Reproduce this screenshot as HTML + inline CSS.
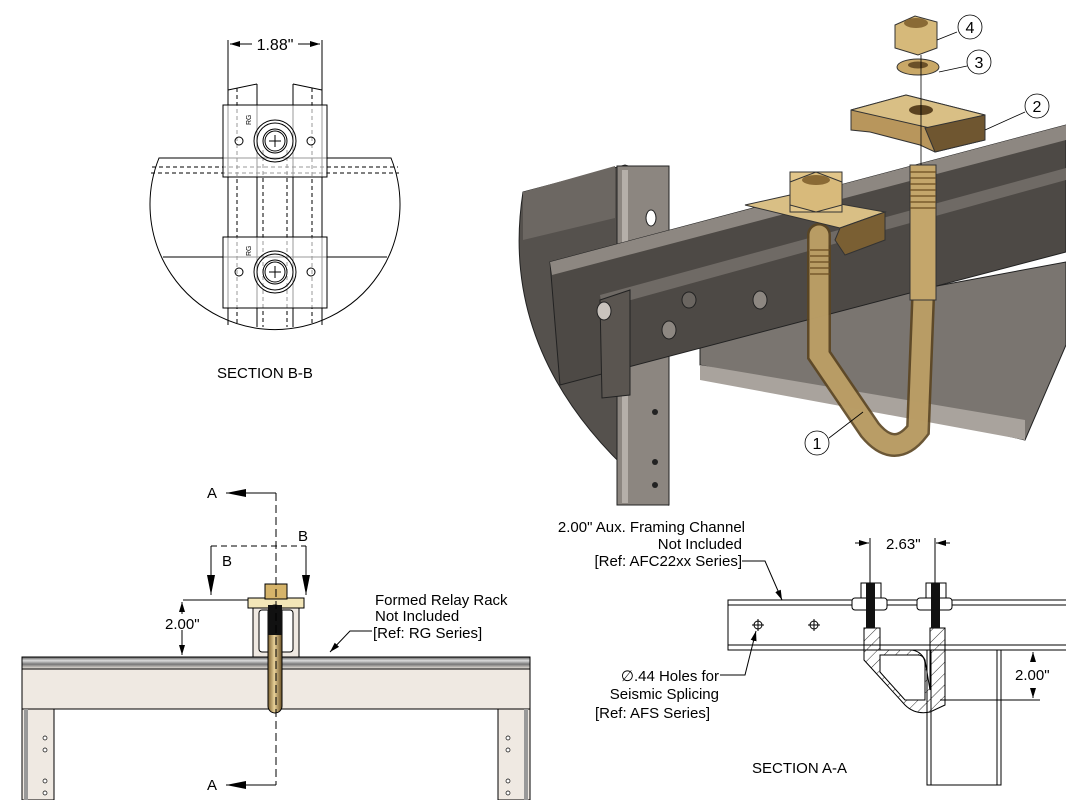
<!DOCTYPE html>
<html><head><meta charset="utf-8"><style>
html,body{margin:0;padding:0;background:#fff;}
svg{display:block;}
text{font-family:"Liberation Sans",sans-serif;font-size:15px;fill:#000;}
</style></head><body>
<svg width="1066" height="800" viewBox="0 0 1066 800" xmlns="http://www.w3.org/2000/svg">
<defs>
<marker id="ar" viewBox="0 0 10 6" refX="10" refY="3" markerWidth="10" markerHeight="6" orient="auto-start-reverse" markerUnits="userSpaceOnUse"><path d="M0,0 L10,3 L0,6 Z" fill="#000"/></marker>
<marker id="big" viewBox="0 0 20 8" refX="20" refY="4" markerWidth="20" markerHeight="8" orient="auto" markerUnits="userSpaceOnUse"><path d="M0,0 L20,4 L0,8 Z" fill="#000"/></marker>
<linearGradient id="bolt" x1="0" x2="1"><stop offset="0" stop-color="#7a6030"/><stop offset=".45" stop-color="#e8d098"/><stop offset="1" stop-color="#6d5428"/></linearGradient>
<linearGradient id="beam" x1="0" y1="0" x2="0" y2="1"><stop offset="0" stop-color="#555"/><stop offset=".3" stop-color="#ddd"/><stop offset=".6" stop-color="#777"/><stop offset="1" stop-color="#efe9e2"/></linearGradient>
<pattern id="hat" width="8" height="8" patternUnits="userSpaceOnUse" patternTransform="rotate(45)"><line x1="0" y1="0" x2="0" y2="8" stroke="#000" stroke-width="0.8"/></pattern>
</defs>

<!-- SECTION B-B -->
<g stroke="#000" stroke-width="1" fill="none">
<path d="M159,158 L391,158 A125,125 0 1 1 159,158 Z" fill="#fff"/>
<line x1="228" y1="40" x2="228" y2="325"/><line x1="322" y1="40" x2="322" y2="325"/>
<line x1="257" y1="84" x2="257" y2="327"/><line x1="293" y1="84" x2="293" y2="327"/>
<line x1="228" y1="90" x2="257" y2="84"/><line x1="293" y1="84" x2="322" y2="90"/>
<g stroke-dasharray="4,3"><line x1="237" y1="88" x2="237" y2="325"/><line x1="312" y1="88" x2="312" y2="325"/><line x1="263" y1="150" x2="263" y2="327"/><line x1="287" y1="150" x2="287" y2="327"/>
<line x1="152" y1="167" x2="398" y2="167"/><line x1="151" y1="173" x2="399" y2="173"/></g>
<line x1="163" y1="257" x2="387" y2="257"/>
<rect x="223" y="105" width="104" height="72" fill="#fff" fill-opacity="0.6"/>
<rect x="223" y="237" width="104" height="71" fill="#fff" fill-opacity="0.6"/>
<circle cx="275" cy="141" r="21"/><circle cx="275" cy="141" r="18"/><circle cx="275" cy="141" r="12"/><circle cx="275" cy="141" r="10"/>
<circle cx="275" cy="272" r="21"/><circle cx="275" cy="272" r="18"/><circle cx="275" cy="272" r="12"/><circle cx="275" cy="272" r="10"/>
<path d="M269,141h12M275,135v12M269,272h12M275,266v12"/>
<circle cx="239" cy="141" r="4"/><circle cx="311" cy="141" r="4"/><circle cx="239" cy="272" r="4"/><circle cx="311" cy="272" r="4"/>
<line x1="230" y1="44" x2="252" y2="44" marker-start="url(#ar)"/><line x1="298" y1="44" x2="320" y2="44" marker-end="url(#ar)"/>
</g>
<text x="275" y="50" text-anchor="middle" style="font-size:16px">1.88"</text>
<text x="248" y="128" style="font-size:7px" transform="rotate(-90 248 125)">RG</text><text x="248" y="259" style="font-size:7px" transform="rotate(-90 248 256)">RG</text>
<text x="217" y="378">SECTION B-B</text>

<!-- 3D VIEW -->
<path d="M523,192 Q495,370 668,505 L668,178 L625,165 Z" fill="#55514d" stroke="#222"/>
<polygon points="523,192 615,166 615,218 523,240" fill="#6c6762"/>
<rect x="617" y="166" width="52" height="339" fill="#8c8680" stroke="#222"/>
<rect x="622" y="170" width="6" height="333" fill="#b5afa9"/>
<ellipse cx="651" cy="218" rx="5" ry="8" fill="#fff" stroke="#222"/>
<polygon points="700,330 1066,262 1066,345 1025,440 700,365" fill="#7a7570" stroke="#222"/>
<polygon points="700,365 1025,420 1025,440 700,380" fill="#a9a39d"/>
<polygon points="550,262 1066,125 1066,252 560,385" fill="#4d4945" stroke="#222"/>
<polygon points="550,262 1066,125 1066,140 552,275" fill="#8d8781"/>
<polygon points="600,295 1066,168 1066,180 602,308" fill="#6f6a65"/>
<polygon points="600,300 630,290 630,395 602,398" fill="#5a5550" stroke="#222"/>
<ellipse cx="604" cy="311" rx="7" ry="9" fill="#c9c3bd" stroke="#222"/>
<ellipse cx="689" cy="300" rx="7" ry="8" fill="#6a6560" stroke="#222"/>
<ellipse cx="669" cy="330" rx="7" ry="9" fill="#8d8781" stroke="#222"/>
<ellipse cx="760" cy="300" rx="7" ry="9" fill="#8d8781" stroke="#222"/>
<circle cx="655" cy="412" r="3" fill="#222"/><circle cx="655" cy="485" r="3" fill="#222"/><circle cx="655" cy="462" r="3" fill="#222"/>
<!-- J bolt -->
<path d="M819,235 L819,355 L870,430 Q895,460 918,430 L923,300" fill="none" stroke="#5b4520" stroke-width="24" stroke-linecap="round" opacity="0.9"/>
<path d="M819,235 L819,355 L870,430 Q895,460 918,430 L923,300" fill="none" stroke="#c2a56c" stroke-width="19" stroke-linecap="round" opacity="0.9"/>
<rect x="910" y="165" width="26" height="135" fill="#c4a66b" stroke="#333"/>
<g stroke="#6a4d20" stroke-width="1.2"><path d="M910,172h26M910,178h26M910,184h26M910,190h26M910,196h26M910,202h26M910,208h26M810,250h20M810,256h20M810,262h20M810,268h20M810,274h20"/></g>
<!-- bracket installed -->
<polygon points="745,205 790,195 885,212 840,228" fill="#d9bf85" stroke="#333"/>
<polygon points="840,228 885,212 885,240 845,255 835,240" fill="#7a5f33" stroke="#333"/>
<rect x="790" y="172" width="52" height="40" fill="#e2c68a" stroke="#333"/>
<polygon points="790,182 816,172 842,182 842,205 816,212 790,205" fill="#d8ba7b" stroke="#333"/>
<ellipse cx="816" cy="180" rx="14" ry="5" fill="#8a6a35"/>
<!-- exploded parts -->
<polygon points="851,110 906,95 985,115 985,140 935,152 920,145 870,132 851,130" fill="#b8965c" stroke="#333"/>
<polygon points="851,110 906,95 985,115 930,128" fill="#d9bf85" stroke="#333"/>
<polygon points="925,128 985,115 985,140 935,152" fill="#6f5630" stroke="#333"/>
<ellipse cx="921" cy="110" rx="12" ry="5" fill="#5a4220"/>
<ellipse cx="918" cy="67" rx="21" ry="8" fill="#c9a867" stroke="#333"/>
<ellipse cx="918" cy="65" rx="10" ry="3.5" fill="#6a5028"/>
<polygon points="895,25 915,16 937,22 937,48 918,55 895,48" fill="#d6b97a" stroke="#333"/>
<ellipse cx="916" cy="23" rx="12" ry="5" fill="#8a6a35"/>
<g stroke="#000" stroke-width="0.8" fill="#fff">
<line x1="921" y1="55" x2="921" y2="165"/>
<line x1="937" y1="40" x2="957" y2="32"/><circle cx="970" cy="27" r="12"/>
<line x1="939" y1="72" x2="967" y2="66"/><circle cx="979" cy="62" r="12"/>
<line x1="985" y1="130" x2="1025" y2="112"/><circle cx="1037" cy="106" r="12"/>
<line x1="863" y1="412" x2="829" y2="438"/><circle cx="817" cy="443" r="12"/>
</g>
<text x="970" y="33" text-anchor="middle" style="font-size:16px">4</text>
<text x="979" y="68" text-anchor="middle" style="font-size:16px">3</text>
<text x="1037" y="112" text-anchor="middle" style="font-size:16px">2</text>
<text x="817" y="449" text-anchor="middle" style="font-size:16px">1</text>

<!-- FRONT VIEW (bottom-left) -->
<rect x="22" y="657" width="508" height="52" fill="#efe9e2" stroke="#000"/>
<rect x="22" y="657" width="508" height="12" fill="url(#beam)" stroke="#000"/>
<rect x="22" y="709" width="32" height="91" fill="#efe9e2" stroke="#000"/>
<rect x="498" y="709" width="32" height="91" fill="#efe9e2" stroke="#000"/>
<rect x="24" y="709" width="4" height="91" fill="#999"/><rect x="524" y="709" width="4" height="91" fill="#999"/>
<g fill="#fff" stroke="#000" stroke-width="0.7"><circle cx="45" cy="738" r="2"/><circle cx="45" cy="750" r="2"/><circle cx="45" cy="781" r="2"/><circle cx="45" cy="793" r="2"/><circle cx="508" cy="738" r="2"/><circle cx="508" cy="750" r="2"/><circle cx="508" cy="781" r="2"/><circle cx="508" cy="793" r="2"/></g>
<rect x="253" y="605" width="46" height="52" fill="#efe9e2" stroke="#000"/>
<rect x="259" y="610" width="34" height="42" fill="#fff" stroke="#000" rx="3"/>
<rect x="248" y="598" width="56" height="10" fill="#f3e6b8" stroke="#000"/>
<rect x="265" y="584" width="22" height="15" fill="#d6b46a" stroke="#000"/>
<rect x="268" y="605" width="14" height="108" fill="url(#bolt)" stroke="#000" rx="7"/>
<rect x="268" y="605" width="14" height="30" fill="#111"/>
<g stroke="#000" fill="none" stroke-width="1">
<line x1="276" y1="493" x2="276" y2="785" stroke-dasharray="8,4"/>
<polyline points="276,493 248,493"/><line x1="248" y1="493" x2="226" y2="493" marker-end="url(#big)"/>
<polyline points="276,785 248,785"/><line x1="248" y1="785" x2="226" y2="785" marker-end="url(#big)"/>
<line x1="211" y1="546" x2="306" y2="546" stroke-dasharray="6,4"/>
<line x1="211" y1="546" x2="211" y2="595" marker-end="url(#big)"/>
<line x1="306" y1="546" x2="306" y2="595" marker-end="url(#big)"/>
<line x1="183" y1="600" x2="248" y2="600"/>
<line x1="182" y1="602" x2="182" y2="614" marker-start="url(#ar)"/><line x1="182" y1="630" x2="182" y2="655" marker-end="url(#ar)"/>
<polyline points="372,631 350,631 330,652" marker-end="url(#ar)"/>
</g>
<text x="207" y="498">A</text><text x="207" y="790">A</text>
<text x="222" y="566">B</text><text x="298" y="541">B</text>
<text x="165" y="629">2.00"</text>
<text x="375" y="605">Formed Relay Rack</text>
<text x="375" y="621">Not Included</text>
<text x="373" y="638">[Ref: RG Series]</text>

<!-- SECTION A-A -->
<g stroke="#000" fill="none" stroke-width="1">
<rect x="728" y="600" width="340" height="50" fill="#fff"/>
<line x1="728" y1="605" x2="1066" y2="605"/><line x1="728" y1="645" x2="1066" y2="645"/>
<circle cx="758" cy="625" r="4"/><circle cx="814" cy="625" r="4"/>
<path d="M758,619v12M752,625h12M814,619v12M808,625h12"/>
<rect x="927" y="650" width="74" height="135" fill="#fff"/>
<line x1="931" y1="650" x2="931" y2="785"/><line x1="997" y1="650" x2="997" y2="785"/>
<path d="M864,628 L864,660 L905,705 Q915,715 930,712 L945,705 L945,628 L930,628 L930,690 L925,660 Q920,650 910,650 L880,650 L880,628 Z" fill="url(#hat)" stroke="#000"/>
<path d="M880,655 L918,655 Q925,655 925,665 L925,700 L905,700 L880,672 Z" fill="#fff"/>
<rect x="852" y="598" width="35" height="12" rx="3" fill="#fff"/>
<rect x="917" y="598" width="35" height="12" rx="3" fill="#fff"/>
<rect x="861" y="583" width="20" height="15" fill="#fff"/>
<rect x="926" y="583" width="20" height="15" fill="#fff"/>
<line x1="870" y1="538" x2="870" y2="583"/><line x1="935" y1="538" x2="935" y2="583"/>
<line x1="855" y1="543" x2="869" y2="543" marker-end="url(#ar)"/>
<line x1="950" y1="543" x2="936" y2="543" marker-end="url(#ar)"/>
<line x1="940" y1="700" x2="1040" y2="700"/>
<line x1="1033" y1="662" x2="1033" y2="652" marker-end="url(#ar)"/>
<line x1="1033" y1="688" x2="1033" y2="698" marker-end="url(#ar)"/>
<polyline points="742,561 765,561 782,600" marker-end="url(#ar)"/>
<polyline points="720,675 745,675 756,631" marker-end="url(#ar)"/>
</g>
<rect x="866" y="583" width="9" height="45" fill="#111"/>
<rect x="931" y="583" width="9" height="45" fill="#111"/>
<text x="886" y="549">2.63"</text>
<text x="1015" y="680">2.00"</text>
<text x="745" y="532" text-anchor="end">2.00" Aux. Framing Channel</text>
<text x="742" y="549" text-anchor="end">Not Included</text>
<text x="742" y="566" text-anchor="end">[Ref: AFC22xx Series]</text>
<text x="719" y="681" text-anchor="end">∅.44 Holes for</text>
<text x="719" y="699" text-anchor="end">Seismic Splicing</text>
<text x="710" y="718" text-anchor="end">[Ref: AFS Series]</text>
<text x="752" y="773">SECTION A-A</text>
</svg>
</body></html>
